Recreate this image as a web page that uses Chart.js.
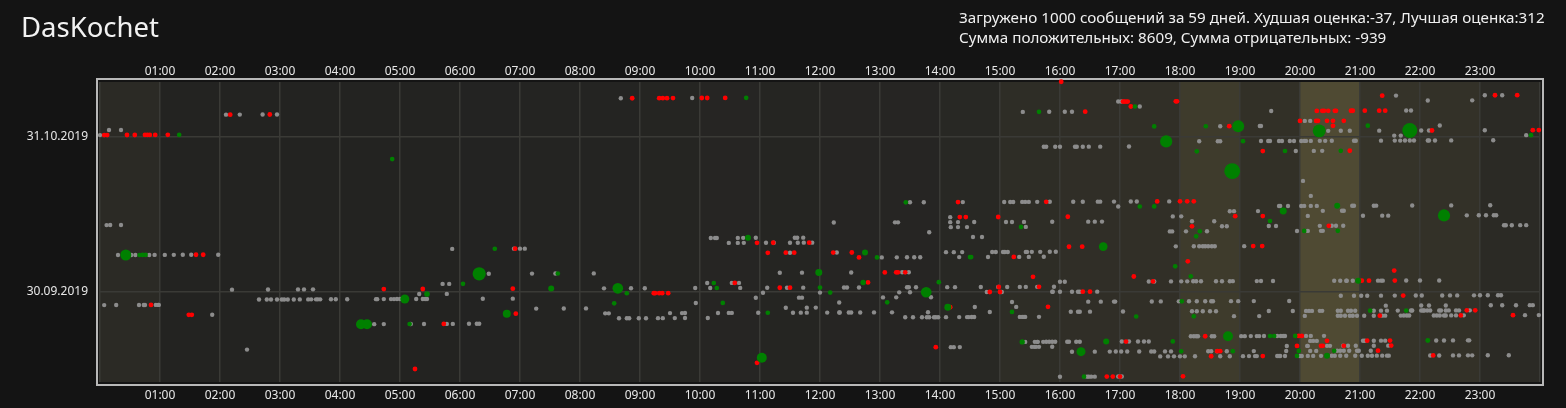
<!DOCTYPE html>
<html>
<head>
<meta charset="utf-8">
<script src="https://cdn.jsdelivr.net/npm/chart.js@4.4.1/dist/chart.umd.min.js"></script>
<style>
  html, body { margin: 0; padding: 0; background: #141414; overflow: hidden; }
  #wrap { position: relative; width: 1566px; height: 408px; }
  #title { position: absolute; left: 21px; top: 8px; color: #f2f2f2; font: 27.5px "Noto Sans", sans-serif; }
  #info { position: absolute; left: 959px; top: 7px; color: #f0f0f0; font: 15.2px "Noto Sans", sans-serif; line-height: 20px; white-space: nowrap; }
  canvas { position: absolute; left: 0; top: 0; }
</style>
</head>
<body>
<div id="wrap">
  <canvas id="chart" width="1566" height="408"></canvas>
  <div id="title">DasKochet</div>
  <div id="info">Загружено 1000 сообщений за 59 дней. Худшая оценка:-37, Лучшая оценка:312<br>Сумма положительных: 8609, Сумма отрицательных: -939</div>
</div>
<script>
// день (от 30.09.2019), затем часы сообщений в этот день
const greyRows = [
    [38, 8.68, 9.87, 21.6, 23.08, 23.37],
    [37, 16.97, 17.02, 22.13, 22.87],
    [36, 17.33],
    [35, 2.1, 2.33, 2.71, 2.95, 15.38, 15.82, 16.08, 16.2, 19.52, 21.77, 21.85],
    [33, 20.08, 20.17],
    [32, 0.15, 0.35, 18.67, 19.33, 19.35, 22.33],
    [31, 0.0, 20.47, 20.68, 20.83, 21.32, 22.02, 22.15, 23.08],
    [30, 21.57, 21.68, 23.77],
    [29, 18.32, 18.63, 18.67, 19.35, 19.47, 19.5, 19.65, 19.7, 19.83, 19.9, 20.02, 20.07, 20.1, 20.18, 20.33, 20.42, 20.53, 20.9, 20.93, 21.35, 21.58, 21.67, 21.75, 21.83, 21.9, 22.13, 22.15, 22.25, 22.52, 23.22],
    [28, 15.73, 15.77, 15.92, 16.0, 16.25, 16.28, 16.38, 16.48, 16.67, 17.15],
    [27, 19.93, 20.23, 20.37],
    [21, 20.05],
    [18, 20.18],
    [17, 13.5, 13.73, 14.38, 15.07, 15.17, 15.22, 15.37, 15.42, 15.48, 15.62, 15.83, 16.22, 16.38, 16.63, 16.67, 16.9, 17.18, 17.28, 17.82],
    [16, 16.97, 19.65, 19.67, 19.8, 20.02, 20.07, 20.18, 20.28, 20.63, 20.87, 20.9, 21.23, 21.27, 21.87, 22.52, 23.17],
    [15, 18.83, 18.9, 19.3, 20.38, 20.7, 20.73],
    [14, 14.17, 17.88, 18.02, 20.13, 21.05, 21.37, 21.47, 22.45, 22.78, 22.98, 23.1, 23.23, 23.27],
    [13, 0.11, 0.17, 0.35, 12.23, 13.25, 13.3, 14.17, 14.3, 14.57, 15.1, 15.2, 15.4, 15.87, 16.47, 16.58, 16.7, 18.2, 18.57],
    [12, 14.18, 14.3, 14.45, 15.43, 18.7, 18.78, 19.48, 19.6, 20.33, 20.53, 20.6, 20.72, 23.4, 23.43, 23.53, 23.67, 23.77],
    [11, 13.82, 17.83, 17.87, 18.1, 18.45, 19.95, 20.13, 20.35, 20.38],
    [10, 10.18, 10.25, 10.28, 10.63, 10.72, 10.93, 11.58, 11.62, 11.72, 14.55, 14.7],
    [9, 10.48, 10.63, 10.73, 11.1, 11.23, 11.5, 11.63, 11.73, 11.87],
    [8, 5.87, 6.9, 7.0, 7.08, 17.93, 18.23, 18.32, 18.38, 18.42, 18.47, 18.53, 18.58, 19.07],
    [7, 0.3, 0.52, 0.59, 0.82, 0.91, 1.08, 1.23, 1.38, 1.52, 1.97, 11.5, 12.28, 14.1, 14.23, 14.37, 14.87, 14.93, 15.05, 15.08, 15.13, 15.43, 15.45, 15.53, 15.67, 15.83, 15.93],
    [6, 13.03, 13.28, 13.45, 13.57, 13.67, 14.32, 14.8, 15.32, 15.48, 15.73],
    [3, 6.48, 7.2, 7.59, 8.23, 11.33, 11.7, 12.52, 13.37, 13.48],
    [1, 5.71, 5.82, 10.12, 10.53, 10.65, 16.0, 16.08, 17.48, 17.57, 17.85, 18.02, 18.12, 18.22, 18.27, 18.35, 18.6, 18.7, 18.83, 18.88, 19.28, 19.35, 19.55, 20.57, 20.67, 20.77, 20.78, 20.88, 21.3, 21.35, 21.38, 21.77, 22.0, 22.32],
    [0, 2.2, 2.8, 3.3, 3.4, 3.55, 8.4, 8.85, 9.08, 9.92, 10.17, 10.67, 11.12, 11.45, 11.72, 12.4, 12.45, 12.65, 13.45, 13.48, 13.6, 14.12, 14.25, 14.68, 14.97, 15.12, 15.33, 15.43, 15.62, 15.9],
    [-1, 5.32, 5.78, 11.05, 12.0, 13.32, 13.5, 14.78, 15.03, 15.87, 15.88, 16.0, 16.2, 16.3, 16.33, 16.62],
    [-2, 2.65, 2.78, 2.85, 2.95, 3.03, 3.07, 3.13, 3.23, 3.33, 3.47, 3.52, 3.6, 3.63, 3.67, 3.85, 3.93, 4.12, 4.6, 4.62, 4.73, 4.85, 4.9, 4.95, 5.0, 5.27, 5.38, 5.42, 5.45, 6.38, 6.88, 10.93, 11.65, 11.7, 13.05, 13.27, 13.85, 20.68, 20.9, 21.02, 21.12, 21.35, 21.58, 21.93, 22.03, 22.37, 22.5, 22.62, 22.9, 23.0, 23.13, 23.3, 23.35],
    [-3, 0.07, 0.27, 0.65, 0.73, 0.75, 0.93, 0.97, 0.98, 9.93, 12.32, 15.2, 16.47, 16.68, 16.9, 16.92, 17.53, 17.68, 17.98, 18.15, 18.28, 18.42, 18.52, 18.55, 18.85, 18.97, 19.23, 19.82],
    [-4, 7.27, 7.73, 8.1, 11.43, 11.78, 11.93, 14.58, 15.27, 21.43, 22.02, 22.15, 22.43, 23.18, 23.37, 23.6, 23.83, 23.88],
    [-5, 1.87, 8.42, 8.48, 9.5, 9.7, 9.75, 10.3, 10.48, 10.53, 10.97, 11.55, 11.68, 11.78, 12.12, 12.32, 12.33, 12.48, 12.52, 12.67, 12.9, 13.2, 13.8, 14.83, 16.18, 16.3, 16.33, 16.5, 17.05, 18.2, 18.28, 18.38, 18.5, 18.6, 19.48, 19.88, 20.1, 20.15, 20.2, 20.33, 20.37, 20.63, 20.68, 20.8, 20.85, 20.92, 21.23, 21.35, 21.45, 21.63, 21.85, 21.87, 22.02, 22.05, 22.07, 22.12, 22.17, 22.32, 22.35, 22.43, 22.48, 22.6, 22.65, 22.83],
    [-6, 8.65, 8.78, 8.82, 8.98, 9.1, 9.3, 9.38, 9.58, 9.75, 10.13, 13.42, 13.55, 13.7, 13.78, 13.82, 13.9, 13.93, 13.97, 14.1, 14.32, 14.45, 14.48, 14.53, 14.57, 15.33, 15.37, 15.4, 15.42, 15.65, 18.9, 19.32, 20.08, 20.63, 20.68, 20.75, 20.83, 20.88, 20.95, 21.07, 21.23, 21.37, 21.42, 21.68, 21.73, 21.78, 21.82, 22.23, 22.28, 22.33, 22.4, 22.43, 22.52, 22.6, 22.73, 23.75, 23.98],
    [-7, 4.57, 4.73, 5.18, 5.4, 5.78, 5.88, 6.15, 6.28, 6.32],
    [-10, 18.18, 18.23, 18.27, 18.3, 18.53, 18.57, 19.02, 19.08, 19.18, 19.28, 19.32, 19.4, 19.62, 19.68, 19.72, 19.75, 20.1, 20.18, 20.4],
    [-11, 15.42, 15.58, 15.62, 15.63, 15.72, 15.77, 15.82, 15.87, 15.92, 16.12, 16.15, 16.27, 16.33, 17.03, 17.15, 17.3, 17.4, 17.48, 20.17, 20.22, 20.28, 21.05, 21.08, 21.23, 21.35, 21.42, 22.27, 22.4, 22.55, 22.8, 22.82],
    [-12, 2.45, 14.18, 14.23, 14.33, 15.53, 15.57, 15.6, 15.65, 15.87, 19.78, 20.12, 20.13, 20.45, 20.5, 20.72, 20.8, 20.93, 21.23, 21.47],
    [-13, 16.2, 16.58, 16.83, 16.93, 17.02, 17.12, 17.32, 17.52, 17.57, 17.75, 17.85, 18.47, 18.52, 18.62, 18.78, 19.23, 19.77, 20.17, 20.27, 20.62, 20.67, 20.73, 20.82, 20.95, 20.98, 21.18],
    [-14, 17.67, 17.8, 17.9, 18.0, 18.08, 18.25, 18.67, 18.83, 19.05, 19.15, 19.25, 19.28, 19.62, 19.65, 19.67, 19.75, 20.0, 20.03, 20.13, 20.22, 20.35, 20.53, 20.58, 20.67, 20.77, 20.92, 21.03, 21.13, 21.2, 21.28, 21.37, 21.45, 21.48, 22.17, 22.32, 22.55, 22.65, 22.8, 22.87, 23.13, 23.48],
    [-18, 16.0, 16.45, 16.48, 16.52, 16.58, 16.97, 17.03]
];

const redRows = [
    [41, 16.02],
    [38, 8.87, 9.32, 9.38, 9.45, 9.55, 10.03, 10.12, 10.42, 21.37, 23.25, 23.62],
    [37, 17.05, 17.07, 17.1, 17.13, 17.93, 17.95],
    [36, 17.18],
    [35, 2.17, 2.83, 16.42, 20.28, 20.37, 20.4, 20.47, 20.58, 20.6, 20.85, 20.88, 21.08, 21.32, 21.42],
    [33, 20.0, 20.27, 20.3, 20.45, 20.55, 20.73],
    [32, 18.82, 20.55],
    [31, 0.07, 0.12, 0.45, 0.58, 0.75, 0.79, 0.83, 0.92, 1.13, 22.2, 23.88, 23.98],
    [27, 19.38, 20.83],
    [17, 14.3, 15.77, 17.62, 18.0, 18.12, 18.23],
    [14, 14.33, 14.43, 14.97, 16.13, 18.92, 19.38],
    [12, 18.2, 20.48],
    [9, 10.95, 11.22, 11.82],
    [8, 6.92, 16.15, 16.37, 19.22, 19.37],
    [7, 1.6, 1.72, 11.13, 11.43, 11.57, 12.22, 12.53],
    [6, 12.65, 15.23],
    [5, 18.13],
    [3, 13.08, 13.27, 13.3, 13.42, 21.57],
    [2, 15.55, 17.23],
    [1, 10.58, 12.8, 17.55, 21.03, 21.15, 21.58],
    [0, 4.73, 5.38, 6.88, 11.33, 11.5, 14.98, 15.65],
    [-1, 9.23, 9.25, 9.32, 9.37, 9.47, 14.83, 15.0, 16.38, 16.5],
    [-2, 21.72],
    [-3, 0.85],
    [-4, 14.17, 15.8],
    [-5, 1.48, 1.53, 6.93, 22.78, 22.92],
    [-6, 21.33, 22.68, 23.55],
    [-7, 5.73],
    [-10, 18.42, 19.98, 20.03],
    [-11, 17.1, 20.45, 21.12, 21.5],
    [-12, 13.93, 19.95, 20.35, 20.38, 20.73, 21.52],
    [-13, 18.62, 18.67, 21.3],
    [-14, 18.52, 19.38, 22.22],
    [-15, 10.95],
    [-16, 5.25],
    [-18, 16.78, 16.88, 17.0, 18.05]
];

// [час, день, оценка]
const greenPoints = [
    [1.32, 31, 1], [20.32, 31, 180], [21.83, 31, 270],
    [4.87, 26, 1], [17.25, 36, 1], [15.65, 35, 1], [10.77, 38, 1],
    [17.57, 32, 1], [18.43, 32, 1], [18.97, 32, 144], [21.13, 32, 1], [23.85, 30, 1],
    [17.77, 29, 150], [19.05, 29, 1], [18.28, 27, 1], [19.75, 27, 1], [20.68, 27, 1],
    [18.87, 23, 312], [13.43, 17, 1], [17.33, 16, 1], [17.57, 16, 1], [20.62, 16, 9],
    [19.72, 15, 20], [22.4, 14, 150], [19.5, 13, 1], [15.35, 12, 1],
    [18.33, 11, 1], [20.07, 11, 1], [20.63, 11, 1], [10.8, 10, 9], [18.27, 10, 1],
    [6.58, 8, 1], [16.72, 8, 50],
    [0.43, 7, 110], [0.66, 7, 1], [0.71, 7, 1], [0.76, 7, 1], [12.75, 7, 9],
    [12.95, 6, 1], [14.5, 6, 1], [14.52, 6, 1], [17.92, 4, 1],
    [6.32, 3, 190], [7.63, 3, 1], [11.98, 3, 20], [18.18, 2, 1],
    [6.05, 1, 1], [10.23, 1, 1], [12.72, 1, 5], [13.98, 1, 1], [20.97, 1, 9],
    [7.52, 0, 9], [8.63, 0, 100], [10.28, 0, 1], [12.0, 0, 1],
    [5.45, -1, 6], [8.78, -1, 1], [12.17, -1, 1], [13.77, -1, 100],
    [5.08, -2, 56], [8.57, -3, 1], [10.38, -3, 1], [13.12, -3, 1], [18.03, -3, 1],
    [14.13, -4, 20], [6.78, -5, 36], [11.13, -5, 1], [15.2, -5, 1], [21.17, -5, 1], [21.77, -5, 1],
    [17.27, -6, 1], [18.23, -6, 1],
    [4.35, -7, 81], [4.45, -7, 81], [5.16, -7, 1],
    [18.8, -10, 81], [19.5, -10, 1], [19.57, -10, 1], [19.92, -10, 1],
    [15.37, -11, 4], [16.77, -11, 9], [17.88, -11, 1], [22.13, -11, 2],
    [16.35, -13, 56], [18.02, -13, 1], [18.88, -13, 1], [19.98, -13, 1], [20.57, -13, 1],
    [11.03, -14, 81], [19.95, -14, 1], [20.45, -14, 9], [16.4, -18, 1]
];

// подсветка часов (активность)
const hourShade = [0.15, 0.01, 0.01, 0.01, 0.01, 0.01, 0.02, 0.03, 0.04, 0.05, 0.06, 0.05,
                   0.06, 0.06, 0.1, 0.2, 0.22, 0.24, 0.45, 0.25, 0.72, 0.3, 0.27, 0.14];

const yTickValues = [-0.32, 30.68];
const yTickLabels = ['30.09.2019', '31.10.2019'];

function rowsToPoints(rows) {
    let pts = [];
    rows.forEach(function(r) {
        r.slice(1).forEach(function(h) {
            pts.push({ x: h, y: r[0] + h / 24 }); // y = полная дата сообщения
        });
    });
    return pts;
}

let greenData = greenPoints.map(p => ({ x: p[0], y: p[1] + p[0] / 24, s: p[2] }));

function hourLabel(v) {
    return (v > 0 && v < 24) ? String(v).padStart(2, '0') + ':00' : '';
}

const bgPlugin = {
    id: 'bg',
    beforeDraw(chart) {
        let ctx = chart.ctx, a = chart.chartArea, xs = chart.scales.x;
        ctx.save();
        ctx.fillStyle = '#141414';
        ctx.fillRect(0, 0, chart.width, chart.height);
        for (let h = 0; h < 24; h++) {
            let v = hourShade[h];
            let r = Math.round(34 + v * 62), g = Math.round(34 + v * 56), b = Math.round(33 + v * 25);
            let x0 = xs.getPixelForValue(h), x1 = xs.getPixelForValue(h + 1);
            ctx.fillStyle = 'rgb(' + r + ',' + g + ',' + b + ')';
            ctx.fillRect(x0, a.top, x1 - x0, a.bottom - a.top);
        }
        ctx.strokeStyle = '#b8b8b8';
        ctx.lineWidth = 2;
        ctx.strokeRect(a.left - 3, a.top - 3, a.right - a.left + 6, a.bottom - a.top + 6);
        ctx.restore();
    }
};

let ctx = document.getElementById('chart').getContext('2d');
new Chart(ctx, {
    type: 'scatter',
    data: {
        datasets: [
            {
                label: 'positive',
                data: greenData,
                backgroundColor: '#008000',
                borderWidth: 0,
                pointRadius: c => c.raw ? 2 + Math.sqrt(c.raw.s) / 3 : 2,
                clip: false
            },
            {
                label: 'negative',
                data: rowsToPoints(redRows),
                backgroundColor: '#ff0000',
                borderWidth: 0,
                pointRadius: 2.4,
                clip: false
            },
            {
                label: 'neutral',
                data: rowsToPoints(greyRows),
                backgroundColor: '#8c8c8c',
                borderWidth: 0,
                pointRadius: 2.2,
                clip: false
            }
        ]
    },
    options: {
        responsive: false,
        animation: false,
        events: [],
        layout: { padding: { left: 0, right: 26, top: 0, bottom: 0 } },
        plugins: { legend: { display: false }, tooltip: { enabled: false } },
        scales: {
            x: {
                type: 'linear', position: 'bottom', min: 0, max: 24,
                afterFit(s) { s.height = 26; },
                grid: { color: '#3a3a36', lineWidth: 1.5, drawTicks: false },
                border: { display: false },
                ticks: {
                    stepSize: 1, padding: 6, color: '#e8e8e8', maxRotation: 0, autoSkip: false,
                    font: { family: 'Noto Sans', size: 12 },
                    callback: hourLabel
                }
            },
            x2: {
                type: 'linear', position: 'top', min: 0, max: 24,
                afterFit(s) { s.height = 82; },
                grid: { display: false },
                border: { display: false },
                ticks: {
                    stepSize: 1, padding: -5, color: '#e8e8e8', maxRotation: 0, autoSkip: false,
                    font: { family: 'Noto Sans', size: 12 },
                    callback: hourLabel
                }
            },
            y: {
                type: 'linear', min: -18.38, max: 41.62,
                afterFit(s) { s.width = 100; },
                afterBuildTicks(s) { s.ticks = yTickValues.map(v => ({ value: v })); },
                grid: { color: '#3a3a36', lineWidth: 1.5, drawTicks: false },
                border: { display: false },
                ticks: {
                    padding: 12, color: '#e8e8e8',
                    font: { family: 'Noto Sans', size: 12 },
                    callback: function(v) {
                        let i = yTickValues.indexOf(v);
                        return i >= 0 ? yTickLabels[i] : '';
                    }
                }
            }
        }
    },
    plugins: [bgPlugin]
});
</script>
</body>
</html>
